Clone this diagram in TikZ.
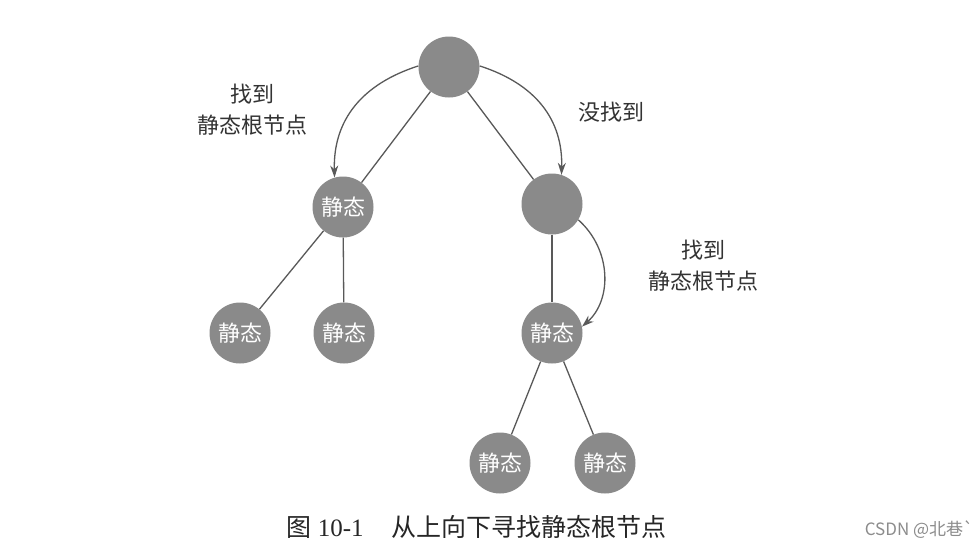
\documentclass[tikz,border=0pt]{standalone}
\usepackage{fontspec}
\newfontfamily\cjk{Noto Sans CJK SC}
\setmainfont{Liberation Serif}
\usetikzlibrary{arrows.meta}
\begin{document}
\begin{tikzpicture}[x=1pt,y=-1pt,
  tn/.style={circle,fill=black!46,minimum size=61pt,inner sep=0pt,text=white,font=\cjk\fontsize{22}{24}\selectfont},
  edge/.style={draw=black!65,line width=1.3pt},
  arr/.style={draw=black!65,line width=1.3pt,-{Stealth[length=12pt,width=8pt]}},
  lbl/.style={align=center,font=\cjk\fontsize{22}{31}\selectfont,text=black!80}]
\useasboundingbox[fill=white] (0,0) rectangle (978,550);
\node[tn] (root) at (449,67) {};
\node[tn] (L) at (343,207) {静态};
\node[tn] (R) at (552,204) {};
\node[tn] (LL) at (240,333) {静态};
\node[tn] (LR) at (344,333) {静态};
\node[tn] (RC) at (552,333) {静态};
\node[tn] (RCL) at (500,463) {静态};
\node[tn] (RCR) at (605,463) {静态};
\draw[edge] (root) -- (L);
\draw[edge] (root) -- (R);
\draw[edge] (L) -- (LL);
\draw[edge] (L) -- (LR);
\draw[edge] (R) -- (RC);
\draw[edge] (RC) -- (RCL);
\draw[edge] (RC) -- (RCR);
\draw[arr] (root.178) .. controls (362,84) and (333,120) .. (L.106);
\draw[arr] (root.2) .. controls (536,84) and (563,120) .. (R.72);
\draw[arr] (R.-31) .. controls (612,250) and (612,300) .. (RC.12);
\node[lbl] (t1) at (252,110) {找到\\静态根节点};
\node[lbl] (t2) at (611,112) {没找到};
\node[lbl] (t3) at (703,266) {找到\\静态根节点};
\node[font=\fontsize{25}{28}\selectfont,text=black!85,anchor=west] (cap) at (283,527) {{\cjk 图} 10-1\hspace{1.1em}{\cjk 从上向下寻找静态根节点}};
\node[font=\cjk\fontsize{17}{19}\selectfont,text=black!45,anchor=east] (wm) at (977,530) {CSDN @北巷`};
\end{tikzpicture}
\end{document}
